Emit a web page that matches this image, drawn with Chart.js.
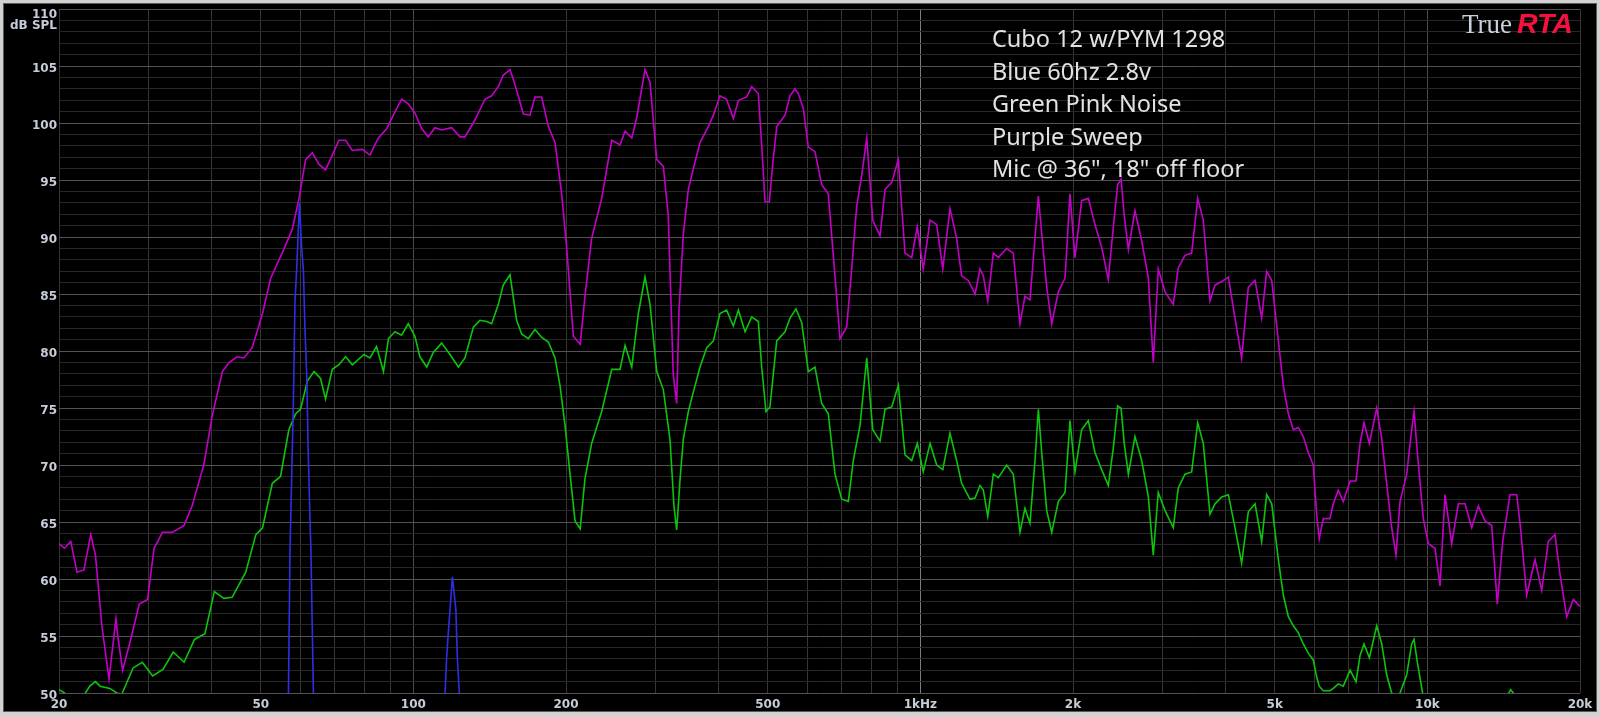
<!DOCTYPE html>
<html><head><meta charset="utf-8">
<script src="https://cdn.jsdelivr.net/npm/chart.js@4"></script>
<style>html,body{margin:0;padding:0;background:#000;overflow:hidden}canvas{display:block}</style>
</head><body>
<canvas id="c" width="1600" height="717"></canvas>
<script>
// ---- Axis definitions ----
const freqGridLines = [20,30,40,50,60,70,80,90,100,200,300,400,500,600,700,800,900,1000,2000,3000,4000,5000,6000,7000,8000,9000,10000,20000];
const xLabelValues = [20,50,100,200,500,1000,2000,5000,10000,20000];
const xLabelTexts = ['20','50','100','200','500','1kHz','2k','5k','10k','20k'];
const yMin = 50, yMax = 110;
const yUnitLabel = 'dB SPL';
const noteLines = ['Cubo 12 w/PYM 1298','Blue 60hz 2.8v','Green Pink Noise','Purple Sweep','Mic @ 36", 18" off floor'];

// ---- Purple: sweep ----
const sweepFreq = [20,20.5,21.1,21.7,22.4,23.1,23.6,24.3,25.1,25.5,25.9,26.1,26.7,27.7,28.8,29.9,30.8,32.0,33.5,35.3,36.6,38.6,40.1,42.0,43.3,44.9,46.3,48.1,50.4,52.3,55.1,57.7,59.5,61.3,63.2,65.1,67.1,69.2,71.3,73.5,75.8,79.3,
82.1,85.3,88.6,91.3,94.8,97.7,100.7,103.9,107.0,110.3,113.7,119.0,123.6,126.4,132.3,138.4,142.7,147.1,150.4,155.1,158.6,164.8,169.8,173.7,179.1,184.6,190.3,196.1,200.6,206.8,213.3,218.0,224.7,235.2,246.2,255.6,261.6,269.6,275.8,286.3,292.9,302.0,311.2,318.2,
325.5,330.6,334.2,340.8,348.6,356.6,367.6,381.8,390.6,402.4,414.8,427.6,437.6,454.4,464.8,479.0,486.4,493.8,503.6,511.4,520.8,540.8,553.2,565.8,574.4,587.6,601.2,619.6,638.8,658.2,673.4,694.2,715.6,732.0,748.8,766.0,783.8,805.4,832.6,851.8,878.0,904.6,932.6,961.4,986.2,1013,1045,1077,1107,1144,1179,1206,1243,1282,
1311,1331,1358,1393,1425,1480,1525,1572,1608,1645,1683,1709,1735,1775,1816,1871,1929,1973,2018,2080,2144,2210,2278,2348,2402,2450,2488,2524,2572,2650,2732,2816,2880,2946,3038,3154,3226,3326,3428,3524,3614,3726,3812,3930,4050,4174,4302,4434,4572,4712,4820,4932,5082,
5198,5318,5440,5564,5692,5822,5956,6048,6120,6232,6424,6522,6672,6826,7040,7232,7366,7500,7684,7944,8128,8312,8504,8672,8832,9104,9312,9412,9554,9818,10044,10352,10592,10834,11168,11508,11864,12232,12604,12992,13392,13738,14078,14554,15004,15232,15702,16304,16808,17322,17854,18264,18830,19400,20000];
const sweepDb = [63.1,62.7,63.3,60.6,60.8,63.9,62.1,55.9,51.2,53.9,56.5,55.1,52.0,54.7,57.8,58.2,62.7,64.1,64.1,64.7,66.4,70.0,74.3,78.2,79.0,79.5,79.4,80.3,83.3,86.4,88.6,90.7,93.4,96.8,97.4,96.4,95.9,97.2,98.5,98.5,97.6,97.7,
97.2,98.7,99.5,100.7,102.1,101.7,100.9,99.5,98.8,99.6,99.4,99.6,98.8,98.8,100.3,102.1,102.4,103.2,104.2,104.7,103.4,100.8,100.7,102.3,102.3,99.7,98.3,93.8,89.1,81.3,80.6,84.8,89.9,93.4,98.5,98.1,99.3,98.7,100.5,104.7,103.6,96.8,96.2,91.9,
78.0,75.4,83.7,90.3,94.2,96.0,98.3,99.7,100.7,102.4,102.1,100.4,102.0,102.3,103.2,102.6,98.1,93.1,93.1,96.4,99.7,100.7,102.4,103.0,102.6,101.3,97.9,97.5,94.6,93.8,88.4,81.1,82.1,87.2,92.7,95.4,98.7,91.5,90.1,94.2,94.8,96.8,88.6,88.2,90.9,87.2,91.5,91.1,87.2,92.5,89.9,86.6,86.2,85.0,
87.2,86.6,84.4,88.6,88.2,89.0,88.6,82.4,84.8,84.5,89.9,93.6,90.3,85.6,82.4,85.2,86.4,93.8,88.2,93.2,93.4,91.1,89.1,86.3,90.9,94.6,95.1,91.9,88.9,92.3,89.7,86.4,79.0,87.2,85.2,84.1,87.3,88.4,88.6,93.4,91.5,84.4,85.8,86.1,86.5,82.9,79.4,85.6,86.2,82.9,87.0,86.2,80.9,
77.0,74.5,73.1,73.3,72.5,71.1,70.0,65.7,63.5,65.3,65.3,66.6,67.8,66.8,68.6,68.6,71.9,73.7,71.9,75.0,72.3,68.4,64.5,62.1,66.8,69.2,73.1,74.7,71.1,65.3,63.1,62.7,59.4,67.4,63.1,66.6,66.6,64.5,66.4,65.1,64.7,57.8,63.3,67.4,67.4,64.9,58.6,61.7,59.0,63.3,63.9,60.4,56.7,58.2,57.6];

// ---- Green: pink noise ----
const pinkFreq = [20,20.5,21.2,22.4,23.0,23.6,24.1,25.2,26.0,26.6,27.2,28.0,29.2,30.6,32.1,33.6,35.3,37.0,38.8,40.5,42.3,43.9,46.7,48.9,50.4,52.7,54.7,56.8,58.6,59.9,61.8,63.7,65.6,67.1,69.2,71.3,73.5,75.8,79.9,
82.1,84.6,87.3,89.3,92.0,94.8,97.7,100.7,103.0,106.3,109.5,113.7,118.1,122.7,126.4,131.3,135.3,139.5,142.7,147.1,150.4,155.1,159.8,163.5,168.5,173.7,179.1,184.6,190.3,194.6,199.1,203.7,208.4,213.3,218.0,224.7,235.2,246.2,255.6,261.6,269.6,277.8,286.3,292.9,302.0,311.2,320.8,
326.6,330.6,335.8,340.8,348.6,356.6,367.6,379.0,390.6,402.4,414.8,427.6,437.6,451.0,464.8,479.0,486.4,496.0,505.0,520.8,540.8,553.2,568.4,583.4,601.2,619.6,638.8,658.2,678.6,699.6,721.0,737.4,760.4,783.8,805.4,832.6,851.8,878.0,904.6,932.6,961.4,986.2,1013,1045,1077,1107,1144,1179,1206,1253,1282,
1311,1331,1358,1393,1425,1480,1525,1572,1608,1645,1683,1709,1735,1775,1816,1871,1929,1973,2018,2080,2144,2210,2278,2348,2402,2450,2488,2524,2572,2650,2732,2816,2880,2946,3038,3154,3226,3326,3428,3524,3614,3726,3812,3930,4050,4174,4302,4434,4572,4712,4820,4932,5082,
5198,5318,5440,5564,5692,5822,5956,6048,6120,6232,6424,6522,6672,6826,7040,7232,7366,7500,7684,7944,8128,8312,8504,8672,8832,9104,9312,9412,9554,9818,10500,13500,14300,14600,15000,16000,20000];
const pinkDb = [50.3,50.0,49.5,49.8,50.6,51.0,50.6,50.4,50.0,49.9,50.9,52.2,52.7,51.5,52.1,53.6,52.7,54.7,55.2,58.9,58.3,58.4,60.6,63.9,64.5,68.4,69.0,73.1,74.5,74.9,77.4,78.2,77.6,75.8,78.4,78.8,79.5,78.8,79.7,
79.4,80.4,78.2,81.1,81.7,81.4,82.4,81.3,79.5,78.6,79.9,80.7,79.7,78.6,79.4,82.1,82.7,82.6,82.4,84.1,85.8,86.7,82.7,81.5,81.1,81.9,81.2,80.8,79.4,77.0,73.5,69.2,65.1,64.4,68.8,71.9,74.7,78.4,78.4,80.5,78.6,83.3,86.5,84.1,78.2,76.6,72.2,
66.4,64.3,68.8,72.3,74.7,76.4,78.6,80.3,80.9,83.3,83.6,82.2,83.6,81.7,83.0,82.6,78.6,74.7,75.1,80.9,81.7,82.9,83.7,82.5,78.2,78.6,75.4,74.5,69.2,67.0,66.8,70.4,73.5,79.4,73.1,72.1,74.9,75.1,77.0,70.9,70.4,71.9,69.4,71.9,70.0,69.6,72.8,70.4,68.4,67.0,67.1,
68.2,67.8,65.5,69.2,68.9,70.0,69.2,64.1,66.2,64.9,70.4,74.9,71.1,66.0,64.1,66.8,67.6,73.9,69.4,73.1,73.9,71.1,69.6,68.2,71.5,75.2,75.0,71.9,69.2,72.5,70.4,67.2,62.1,67.6,66.0,64.5,68.0,69.2,69.4,73.7,71.9,65.7,66.6,67.2,67.4,64.5,61.4,65.9,66.6,63.3,67.4,66.6,61.7,
58.6,56.7,55.9,55.3,54.3,53.5,52.9,51.4,50.6,50.2,50.2,50.4,50.8,50.6,52.0,51.0,53.3,54.3,53.1,55.9,54.3,51.6,50.0,49.6,50.0,51.6,54.3,54.7,52.7,49.6,47,47,49.6,50.3,49.6,47,47];

// ---- Blue: 60 Hz tone ----
const toneFreq = [20,56.0,56.7,57.1,57.6,58.0,58.4,58.9,59.6,60.2,60.7,61.1,61.6,62.0,62.5,62.8,63.5,64.2,114.8,115.5,116.3,117.1,118.1,119.0,119.4,120.0,121.3,121.7,122.1,123.2,124.0,20000];
const toneDb = [40,45,50,62.5,69.8,75.7,84.2,87.5,93.0,89.1,87.0,82.1,78.0,71.6,65.5,62.5,50,45,45,50,53.1,55.1,57.3,59.3,60.2,59.3,57.3,55.1,53.1,50,45,40];

const tickColor = '#c6ccd8';
const toPoints = (fs, vs) => fs.map((f, i) => ({x: f, y: vs[i]}));

const framePlugin = {
  id: 'frame',
  beforeDraw(chart) {
    const ctx = chart.ctx;
    ctx.save();
    ctx.fillStyle = '#d2d2d2';
    ctx.fillRect(0, 0, chart.width, chart.height);
    ctx.fillStyle = '#5a5a5a';
    ctx.fillRect(3, 3, chart.width - 6, chart.height - 8);
    ctx.fillStyle = '#000';
    ctx.fillRect(4, 4, chart.width - 8, chart.height - 10);
    ctx.restore();
  }
};
const textPlugin = {
  id: 'texts',
  afterDraw(chart) {
    const ctx = chart.ctx, a = chart.chartArea;
    ctx.save();
    ctx.textBaseline = 'alphabetic';
    ctx.font = 'bold 12px "DejaVu Sans"';
    ctx.fillStyle = tickColor;
    ctx.textAlign = 'right';
    ctx.fillText(String(yMax), a.left - 2, a.top + 9);
    ctx.fillText(yUnitLabel, a.left - 2, a.top + 20);
    ctx.textAlign = 'left';
    ctx.font = '23.5px "Noto Sans"';
    ctx.fillStyle = '#e2e2e2';
    noteLines.forEach((t, i) => ctx.fillText(t, 992, 47 + i * 32.5));
    ctx.font = '27px "Liberation Serif"';
    ctx.fillStyle = '#c9cfda';
    ctx.fillText('True', 1462, 33);
    ctx.font = 'italic bold 28.5px "Liberation Sans"';
    ctx.fillStyle = '#f5103f';
    ctx.fillText('RTA', 1517, 33);
    ctx.restore();
  }
};

const lineStyle = {pointRadius: 0, borderWidth: 1.6, tension: 0, fill: false};
const tickFont = {family: 'DejaVu Sans', weight: 'bold', size: 12};

new Chart(document.getElementById('c'), {
  type: 'line',
  data: {
    datasets: [
      Object.assign({label: 'Blue 60hz 2.8v', data: toPoints(toneFreq, toneDb), borderColor: '#2e2ee8'}, lineStyle),
      Object.assign({label: 'Green Pink Noise', data: toPoints(pinkFreq, pinkDb), borderColor: '#0cc40c'}, lineStyle),
      Object.assign({label: 'Purple Sweep', data: toPoints(sweepFreq, sweepDb), borderColor: '#c400c8'}, lineStyle)
    ]
  },
  options: {
    responsive: false,
    animation: false,
    devicePixelRatio: 1,
    layout: {padding: {top: 9, right: 20, left: 0, bottom: 0}},
    plugins: {legend: {display: false}, tooltip: {enabled: false}},
    scales: {
      x: {
        type: 'logarithmic', min: 20, max: 20000,
        border: {display: false},
        grid: {
          drawTicks: false, lineWidth: 1,
          color: (c) => {
            const v = c.tick ? c.tick.value : 0;
            if (v === 1000) return '#7c7c7c';
            if (v === 100 || v === 10000) return '#4a4a4a';
            return '#363636';
          }
        },
        ticks: {
          autoSkip: false, maxRotation: 0, minRotation: 0, padding: 5,
          color: tickColor, font: tickFont,
          callback: (v) => { const i = xLabelValues.indexOf(v); return i >= 0 ? xLabelTexts[i] : ''; }
        },
        afterBuildTicks: (s) => { s.ticks = freqGridLines.map(v => ({value: v})); },
        afterFit: (s) => { s.height = 24; }
      },
      y: {
        type: 'linear', min: yMin, max: yMax,
        border: {display: false},
        grid: {
          drawTicks: false, lineWidth: 1,
          color: (c) => (c.tick && c.tick.value % 5 === 0) ? '#535353' : '#272727'
        },
        ticks: {
          stepSize: 1, autoSkip: false, padding: 2, labelOffset: 3,
          color: tickColor, font: tickFont,
          callback: (v) => (v % 5 === 0 && v !== yMax ? String(v) : '')
        },
        afterFit: (s) => { s.width = 59; }
      }
    }
  },
  plugins: [framePlugin, textPlugin]
});
</script>
</body></html>
